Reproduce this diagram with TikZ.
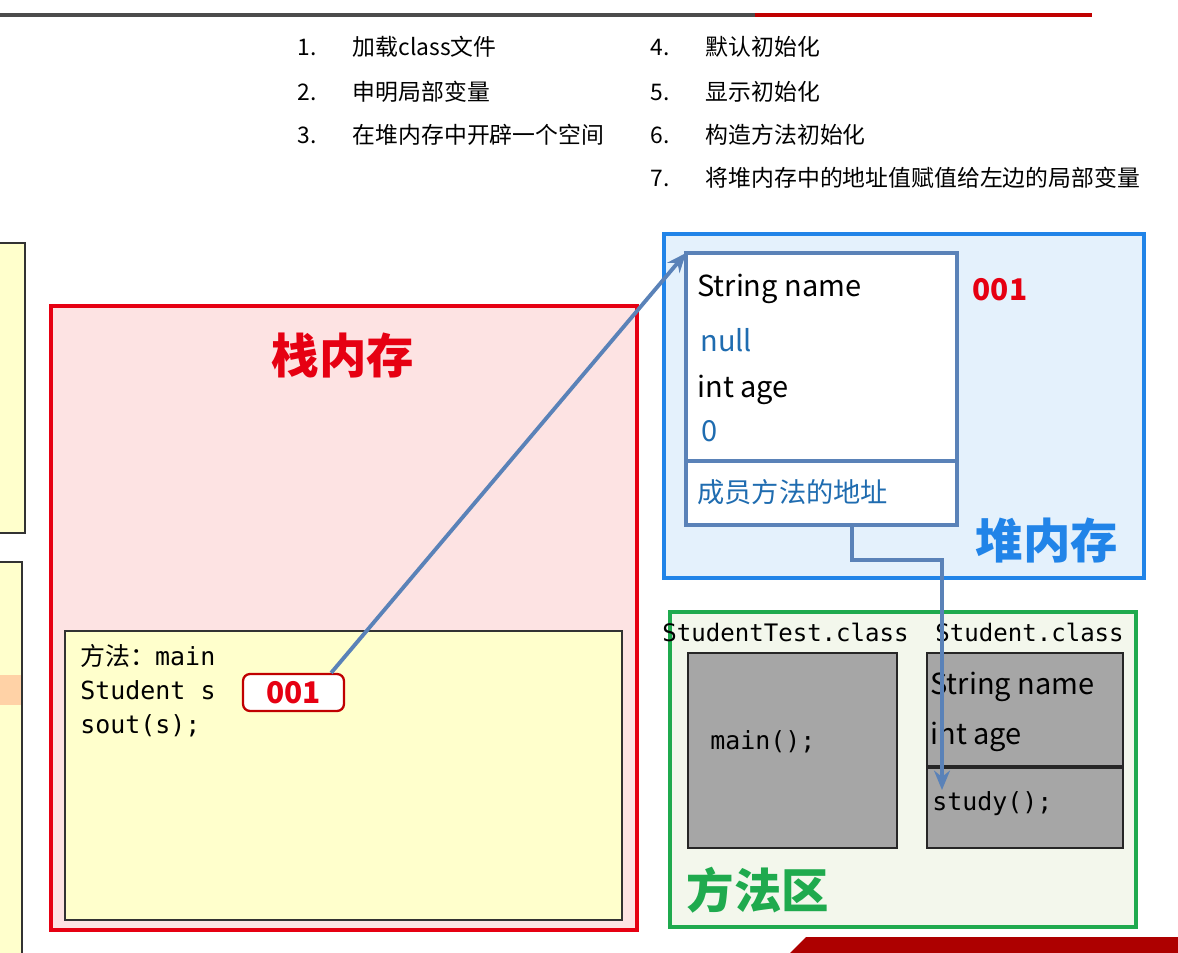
\documentclass[tikz,border=0pt]{standalone}
\usepackage{fontspec}
\setmainfont{Noto Sans CJK SC}
\setmonofont{DejaVu Sans Mono}
\newfontfamily\cjk{Noto Sans CJK SC}
\usetikzlibrary{arrows.meta,calc}

\definecolor{stackred}{HTML}{E60012}
\definecolor{stackfill}{HTML}{FDE3E3}
\definecolor{frameyellow}{HTML}{FFFFCC}
\definecolor{heapblue}{HTML}{2184E8}
\definecolor{heapfill}{HTML}{E4F1FC}
\definecolor{refblue}{HTML}{5A82B8}
\definecolor{valblue}{HTML}{1F6CB0}
\definecolor{methgreen}{HTML}{1FAA4E}
\definecolor{methfill}{HTML}{F3F7EC}
\definecolor{classgray}{HTML}{A6A6A6}
\definecolor{addrred}{HTML}{C00000}

\begin{document}
\begin{tikzpicture}[x=0.02cm, y=-0.02cm,
  area/.style={line width=2.2pt},
  frame/.style={draw=black!80, fill=frameyellow, line width=0.9pt},
  classbox/.style={draw=black!85, fill=classgray, line width=0.9pt},
  listtxt/.style={anchor=west, inner sep=0pt, font=\fontsize{13}{15}\selectfont},
  codetxt/.style={anchor=west, inner sep=0pt, font=\ttfamily\fontsize{14.2}{19.3}\selectfont, align=left},
  fieldtxt/.style={anchor=west, inner sep=0pt, font=\fontsize{16.5}{19}\selectfont},
  title/.style={inner sep=0pt, font=\cjk\bfseries\fontsize{27}{30}\selectfont},
  ref/.style={refblue, line width=2.2pt, -{Stealth[length=11pt,width=9pt]}}]
  \useasboundingbox (0,0) rectangle (1178,953);
  \fill[white] (0,0) rectangle (1178,953);

  % Slide header bar
  \draw[line width=1.8pt, black!70] (0,15) -- (755,15);
  \draw[line width=1.8pt, addrred] (755,15) -- (1092,15);

  % Steps of object creation
  \foreach \n/\t/\y in {1/加载class文件/47, 2/申明局部变量/92, 3/在堆内存中开辟一个空间/135}
    \node[listtxt] (step\n) at (297,\y) {\n.\hspace{1.6em}\t};
  \foreach \n/\t/\y in {4/默认初始化/47, 5/显示初始化/92, 6/构造方法初始化/135, 7/将堆内存中的地址值赋值给左边的局部变量/178}
    \node[listtxt] (step\n) at (650,\y) {\n.\hspace{1.6em}\t};

  % Frames cut off at the left edge
  \draw[frame] (-10,243) rectangle (25,533);
  \draw[frame] (-10,562) rectangle (22,970);
  \fill[orange!35] (0,675) rectangle (21,705);

  % Stack memory
  \draw[area, draw=stackred, fill=stackfill] (51,306) rectangle (637,930);
  \node[title, stackred] (stacktitle) at (343,355) {栈内存};
  \draw[frame] (65,631) rectangle (622,920);
  \node[codetxt] (mainframe) at (80,691) {{\cjk 方法：}main\\Student s\\sout(s);};
  \node[draw=addrred, line width=1.3pt, fill=white, rounded corners=4pt,
        minimum width=2.02cm, minimum height=0.74cm, inner sep=0pt,
        text=stackred, font=\bfseries\fontsize{17}{19}\selectfont] (addr) at (293.5,692.5) {001};

  % Heap memory
  \draw[area, draw=heapblue, fill=heapfill] (664,234) rectangle (1144,578);
  \node[title, heapblue] (heaptitle) at (1047,540) {堆内存};
  \node[inner sep=0pt, text=stackred, font=\bfseries\fontsize{17}{19}\selectfont] (objaddr) at (1000,290) {001};
  \draw[draw=refblue, line width=2.1pt, fill=white] (686,253) rectangle (957,525);
  \draw[refblue, line width=2.1pt] (686,461) -- (957,461);
  \coordinate (objnw) at (686,253);
  \coordinate (methaddr) at (852,525);
  \node[fieldtxt] (hname) at (697,289) {String name};
  \node[fieldtxt, valblue] (hnull) at (700,340) {null};
  \node[fieldtxt] (hage) at (697,390) {int age};
  \node[fieldtxt, valblue] (hzero) at (701,431) {0};
  \node[fieldtxt, valblue, font=\fontsize{15.5}{18}\selectfont] (hmeth) at (697,492) {成员方法的地址};

  % Method area
  \draw[area, draw=methgreen, fill=methfill] (670,612) rectangle (1136,927);
  \node[title, methgreen] (methtitle) at (758,890) {方法区};
  \node[codetxt, font=\ttfamily\fontsize{13.7}{16}\selectfont] (testcls) at (662,632) {StudentTest.class};
  \node[codetxt, font=\ttfamily\fontsize{13.7}{16}\selectfont] (stucls) at (935,632) {Student.class};
  \draw[classbox] (688,653) rectangle (897,848);
  \node[codetxt] (mainm) at (710,742) {main();};
  \draw[classbox] (927,653) rectangle (1123,848);
  \draw[line width=1.8pt, black!85] (927,767) -- (1123,767);
  \node[fieldtxt] (cname) at (930,687) {String name};
  \node[fieldtxt] (cage) at (930,737) {int age};
  \node[codetxt] (study) at (932,804) {study();};
  \coordinate (studyin) at (942,790);

  % References
  \draw[ref] ($(addr.north east)+(-14,0)$) -- (objnw);
  \draw[ref] (methaddr) -- ++(0,35) -| (studyin);

  % Banner at the bottom edge
  \fill[addrred!90!black] (790,953) -- (806,937) -- (1178,937) -- (1178,953) -- cycle;
\end{tikzpicture}
\end{document}
